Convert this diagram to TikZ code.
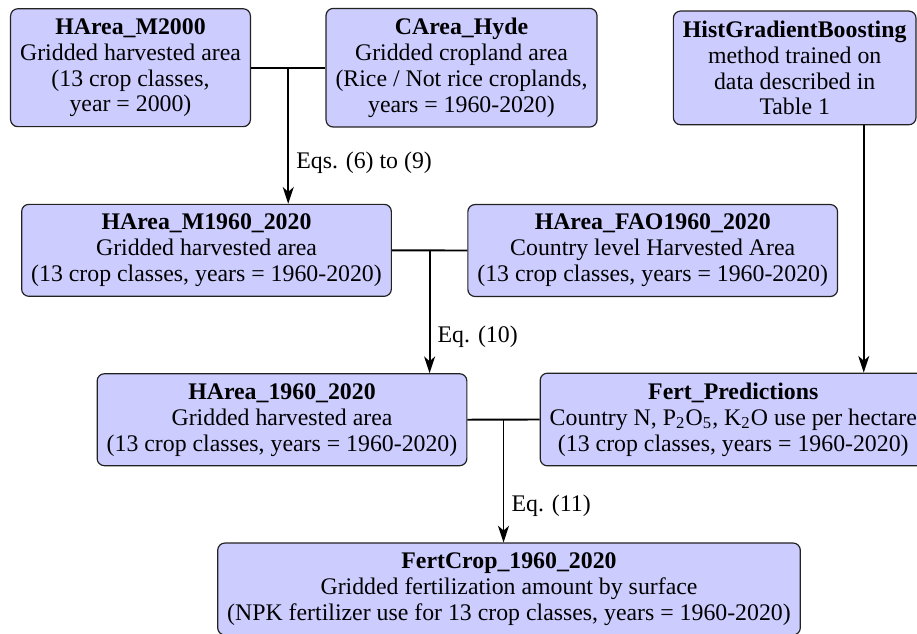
\documentclass[tikz,border=0pt]{standalone}
\usepackage{fontspec}
\setmainfont{Liberation Serif}
\usepackage{tikz}
\usetikzlibrary{calc,arrows.meta}
\definecolor{boxfill}{HTML}{CCCCFF}
\definecolor{edge}{HTML}{222222}
\tikzset{
  databox/.style={draw=edge, fill=boxfill, line width=0.5pt, rounded corners=3pt,
    align=center, inner xsep=4pt, inner ysep=4pt, font=\fontsize{10}{10.9}\selectfont},
  line/.style={draw=black, line width=0.8pt},
  arrline/.style={line, -{Stealth[length=7pt, width=4.6pt, inset=2pt]}},
  lbl/.style={font=\fontsize{10}{10.9}\selectfont, right, pos=0.7, inner sep=3pt}
}

\begin{document}
\begin{tikzpicture}[x=0.42pt, y=-0.42pt]
  \useasboundingbox (0,0) rectangle (917,633);

  % inputs
  \node[databox] (hm2000) at (130.5,67.7) {\textbf{HArea\_M2000}\\Gridded harvested area\\(13 crop classes,\\year = 2000)};
  \node[databox] (chyde) at (461.5,67.7) {\textbf{CArea\_Hyde}\\Gridded cropland area\\(Rice / Not rice croplands,\\years = 1960-2020)};
  \node[databox] (hgb) at (794.7,67.9) {\textbf{HistGradientBoosting}\\method trained on\\data described in\\Table 1};

  % intermediate products
  \node[databox] (hm1960) at (206.5,250.3) {\textbf{HArea\_M1960\_2020}\\Gridded harvested area\\(13 crop classes, years = 1960-2020)};
  \node[databox] (hfao) at (652.7,250.5) {\textbf{HArea\_FAO1960\_2020}\\Country level Harvested Area\\(13 crop classes, years = 1960-2020)};
  \node[databox] (harea) at (282,419.7) {\textbf{HArea\_1960\_2020}\\Gridded harvested area\\(13 crop classes, years = 1960-2020)};
  \node[databox] (fert) at (733.3,419.5) {\textbf{Fert\_Predictions}\\Country N, P\textsubscript{2}O\textsubscript{5}, K\textsubscript{2}O use per hectare\\(13 crop classes, years = 1960-2020)};

  % output
  \node[databox] (fertcrop) at (509,589) {\textbf{FertCrop\_1960\_2020}\\Gridded fertilization amount by surface\\(NPK fertilizer use for 13 crop classes, years = 1960-2020)};

  \coordinate (j1) at ($(hm2000.east)!0.5!(chyde.west)$);
  \coordinate (j2) at ($(hm1960.east)!0.5!(hfao.west)$);
  \coordinate (j3) at ($(harea.east)!0.5!(fert.west)$);
  \coordinate (hgbout) at ([xshift=29pt]hgb.south);

  \draw[line] (hm2000.east) -- (chyde.west);
  \draw[arrline] (j1) -- node[lbl]{Eqs. (6) to (9)} (j1 |- hm1960.north);

  \draw[line] (hm1960.east) -- (hfao.west);
  \draw[arrline] (j2) -- node[lbl]{Eq. (10)} (j2 |- harea.north);

  \draw[arrline] (hgbout) -- (hgbout |- fert.north);

  \draw[line] (harea.east) -- (fert.west);
  \draw[arrline] (j3) -- node[lbl]{Eq. (11)} (j3 |- fertcrop.north);
\end{tikzpicture}
\end{document}
